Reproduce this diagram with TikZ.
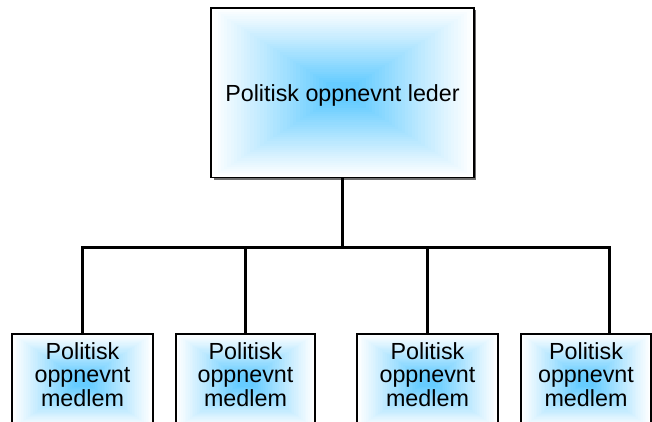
\documentclass[tikz,border=0pt]{standalone}
\usepackage{fontspec}
\setmainfont{Liberation Sans}
\usetikzlibrary{calc}
\definecolor{skyc}{RGB}{102,204,255}
\definecolor{shadowc}{RGB}{110,110,110}
\tikzset{
  gradbox/.style={draw=black, line width=1.8pt, inner sep=0pt, rectangle,
    path picture={
      \foreach \i in {0,...,39}{
        \pgfmathsetmacro\pct{min(100,115*(\i/40)^1.05)}
        \fill[skyc!\pct!white]
          ($(path picture bounding box.south west)!{\i/80}!(path picture bounding box.north east)$)
          rectangle
          ($(path picture bounding box.north east)!{\i/80}!(path picture bounding box.south west)$);
      }
    }},
  label text/.style={font=\fontsize{23.3pt}{23.5pt}\selectfont, align=center, inner sep=0pt},
  link/.style={line width=3pt, draw=black}
}
\begin{document}
\begin{tikzpicture}[x=1pt, y=-1pt]
  \useasboundingbox (0,0) rectangle (652,421);
  \clip (0,0) rectangle (652,421);

  % leader box with its shadow
  \fill[shadowc] (213.5,10) rectangle (476,179.5);
  \node[gradbox, minimum width=263pt, minimum height=169.5pt, text depth=0pt,
        font=\fontsize{23.3pt}{23.5pt}\selectfont] (lead) at (342.5,92.75)
        {Politisk oppnevnt leder};

  % member boxes (lower edge runs past the page)
  \node[gradbox, minimum width=141pt, minimum height=94pt] (m1) at (82.5,381) {};
  \node[gradbox, minimum width=139pt, minimum height=94pt] (m2) at (245.5,381) {};
  \node[gradbox, minimum width=141pt, minimum height=94pt] (m3) at (427.5,381) {};
  \node[gradbox, minimum width=130pt, minimum height=94pt] (m4) at (586,381) {};

  \foreach \m in {m1,m2,m3,m4}{
    \node[label text, anchor=north] (\m t) at ($(\m.north)+(0,9)$)
      {Politisk\\oppnevnt\\medlem};
  }

  % connectors
  \coordinate (bus) at (342.5,247);
  \coordinate (d1) at (82.5,247);
  \coordinate (d2) at (245.5,247);
  \coordinate (d3) at (427.5,247);
  \coordinate (d4) at (609,247);
  \coordinate (t4) at (609,334);
  \draw[link] (lead.south) -- (bus);
  \draw[link, line cap=rect] (d1) -- (d4);
  \draw[link] (d1) -- (m1.north);
  \draw[link] (d2) -- (m2.north);
  \draw[link] (d3) -- (m3.north);
  \draw[link] (d4) -- (t4);
\end{tikzpicture}
\end{document}
